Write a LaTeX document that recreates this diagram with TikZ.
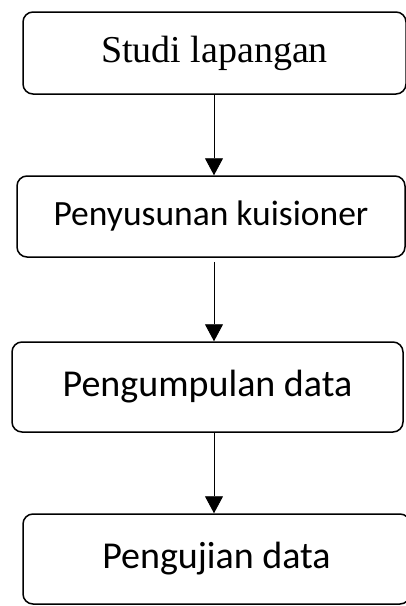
\documentclass[tikz,border=0pt]{standalone}
\usepackage{fontspec}
\setmainfont{Liberation Serif}
\newfontfamily\calfont{Carlito}
\usetikzlibrary{arrows.meta}
\begin{document}
\begin{tikzpicture}[x=1pt,y=-1pt,
  box/.style={draw, line width=1.5pt, rounded corners=10pt, inner sep=0pt, anchor=center},
  flow/.style={draw, line width=0.9pt, -{Triangle[width=18pt,length=17pt]}}]
\useasboundingbox (0,0) rectangle (406,606);
\node[box, minimum width=383pt, minimum height=82pt, font=\fontsize{38}{40}\selectfont] (b1) at (214.5,53) {Studi lapangan};
\node[box, minimum width=388pt, minimum height=81pt, font=\calfont\fontsize{35.5}{38}\selectfont] (b2) at (211,216.5) {Penyusunan kuisioner};
\node[box, minimum width=391pt, minimum height=90pt, font=\calfont\fontsize{38}{40}\selectfont] (b3) at (207.5,387) {Pengumpulan data};
\node[box, minimum width=387pt, minimum height=90pt, font=\calfont\fontsize{38}{40}\selectfont] (b4) at (216.5,559) {Pengujian data};
\coordinate (ax) at (214,0);
\draw[flow] (b1.south -| ax) -- (b2.north -| ax);
\draw[flow, shorten <=4pt] (b2.south -| ax) -- (b3.north -| ax);
\draw[flow] (b3.south -| ax) -- (b4.north -| ax);
\end{tikzpicture}
\end{document}
